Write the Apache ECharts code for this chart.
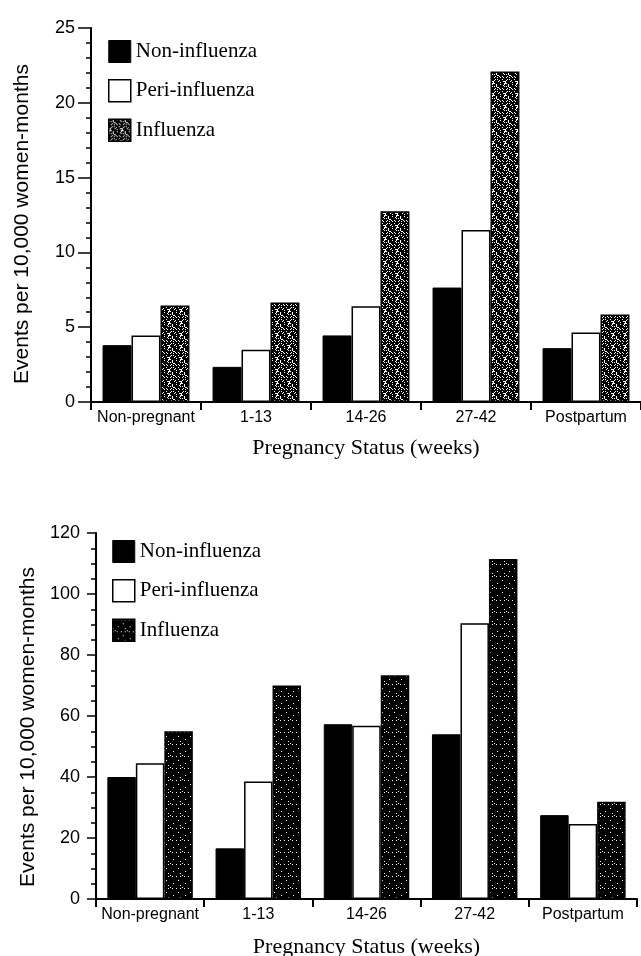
<!DOCTYPE html>
<html>
<head>
<meta charset="utf-8">
<script src="https://cdn.jsdelivr.net/npm/echarts@6/dist/echarts.min.js"></script>
<style>
html,body{margin:0;padding:0;background:#fff;}
#chart{width:641px;height:956px;}
</style>
</head>
<body>
<div id="chart"></div>
<script>
const categories = ['Non-pregnant', '1-13', '14-26', '27-42', 'Postpartum'];
const seriesNames = ['Non-influenza', 'Peri-influenza', 'Influenza'];
const yAxisName = 'Events per 10,000 women-months';
const xAxisName = 'Pregnancy Status (weeks)';

// Top panel values
const topNonInfluenza = [3.8, 2.35, 4.45, 7.65, 3.6];
const topPeriInfluenza = [4.45, 3.5, 6.4, 11.5, 4.65];
const topInfluenza = [6.45, 6.65, 12.75, 22.1, 5.85];
const topYTicks = [0, 5, 10, 15, 20, 25];

// Bottom panel values
const bottomNonInfluenza = [40, 16.6, 57.3, 54, 27.5];
const bottomPeriInfluenza = [44.5, 38.5, 56.8, 90.4, 24.6];
const bottomInfluenza = [55, 70, 73.4, 111.5, 31.9];
const bottomYTicks = [0, 20, 40, 60, 80, 100, 120];

function speckle(threshold) {
  const c = document.createElement('canvas');
  c.width = 12; c.height = 12;
  const ctx = c.getContext('2d');
  ctx.fillStyle = '#000';
  ctx.fillRect(0, 0, 12, 12);
  ctx.fillStyle = '#fff';
  for (let y = 0; y < 12; y++) {
    for (let x = 0; x < 12; x++) {
      const h = ((x * 73 + y * 151 + x * y * 37) % 97);
      if (h < threshold) ctx.fillRect(x, y, 1, 1);
    }
  }
  return c;
}
const patTop = { image: speckle(20), repeat: 'repeat' };
const patBottom = { image: speckle(3), repeat: 'repeat' };

const sans = 'Liberation Sans';
const serif = 'Liberation Serif';

function xAxis(gridIndex, nameGap) {
  return {
    type: 'category', gridIndex: gridIndex, data: categories,
    name: xAxisName, nameLocation: 'middle', nameGap: nameGap,
    nameTextStyle: { fontFamily: serif, fontSize: 22, color: '#000' },
    axisLine: { show: true, lineStyle: { color: '#000', width: 2 } },
    axisTick: { show: true, length: 8, lineStyle: { color: '#000', width: 2 } },
    axisLabel: { fontFamily: sans, fontSize: 16, color: '#000', margin: 8, interval: 0 },
    splitLine: { show: false }
  };
}
function yAxis(gridIndex, ticks, minorSplit, tickLen, nameGap, shift) {
  return {
    type: 'value', gridIndex: gridIndex,
    min: ticks[0], max: ticks[ticks.length - 1], interval: ticks[1] - ticks[0],
    name: yAxisName, nameLocation: 'middle', nameGap: nameGap, nameRotate: 90,
    nameTextStyle: { fontFamily: sans, fontSize: 21, color: '#000', padding: [0, shift, 0, 0] },
    axisLine: { show: true, lineStyle: { color: '#000', width: 2 } },
    axisTick: { show: true, length: tickLen, lineStyle: { color: '#000', width: 1.5 } },
    minorTick: { show: true, splitNumber: minorSplit, length: 5, lineStyle: { color: '#000', width: 1.5 } },
    axisLabel: { fontFamily: sans, fontSize: 18, color: '#000', margin: 16 },
    splitLine: { show: false }, minorSplitLine: { show: false }
  };
}
function bars(idx, data, style) {
  return {
    type: 'bar', name: seriesNames[idx % 3], data: data,
    xAxisIndex: idx < 3 ? 0 : 1, yAxisIndex: idx < 3 ? 0 : 1,
    barGap: '0%', barCategoryGap: '21%',
    itemStyle: style, emphasis: { disabled: true }, animation: false
  };
}
const sBlack = { color: '#000', borderColor: '#000', borderWidth: 1 };
const sWhite = { color: '#fff', borderColor: '#000', borderWidth: 1.5 };
const sFluTop = { color: patTop, borderColor: '#000', borderWidth: 1.5 };
const sFluBottom = { color: patBottom, borderColor: '#000', borderWidth: 1.5 };

function legend(left, top, pat) {
  return {
    orient: 'vertical', left: left, top: top,
    itemWidth: 22, itemHeight: 22, itemGap: 16, icon: 'rect',
    textStyle: { fontFamily: serif, fontSize: 21, color: '#000', padding: [0, 0, 6, 0] },
    selectedMode: false,
    data: [
      { name: seriesNames[0], itemStyle: sBlack },
      { name: seriesNames[1], itemStyle: sWhite },
      { name: seriesNames[2], itemStyle: { color: pat, borderColor: '#000', borderWidth: 1.5 } }
    ]
  };
}

const chart = echarts.init(document.getElementById('chart'), null, { renderer: 'canvas' });
chart.setOption({
  backgroundColor: '#fff',
  animation: false,
  legend: [legend(103, 35, patTop), legend(107, 535, patBottom)],
  grid: [
    { left: 91, right: 0, top: 28, height: 374, outerBoundsMode: 'none', containLabel: false },
    { left: 96, right: 4, top: 533, height: 366, outerBoundsMode: 'none', containLabel: false }
  ],
  xAxis: [xAxis(0, 35), xAxis(1, 37)],
  yAxis: [yAxis(0, topYTicks, 5, 13, 58, 18), yAxis(1, bottomYTicks, 4, 9, 55, 22)],
  series: [
    bars(0, topNonInfluenza, sBlack),
    bars(1, topPeriInfluenza, sWhite),
    bars(2, topInfluenza, sFluTop),
    bars(3, bottomNonInfluenza, sBlack),
    bars(4, bottomPeriInfluenza, sWhite),
    bars(5, bottomInfluenza, sFluBottom)
  ]
});
</script>
</body>
</html>
